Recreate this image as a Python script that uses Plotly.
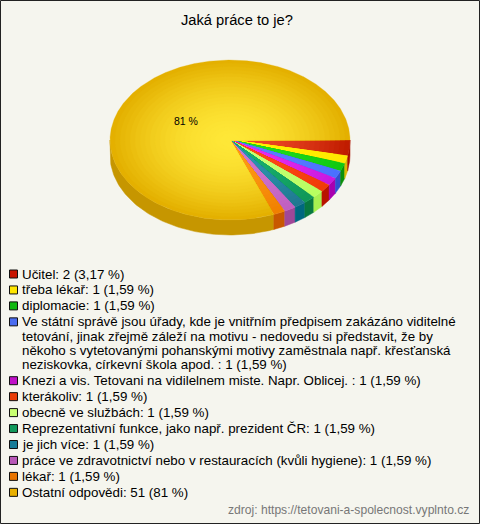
import numpy as np
import plotly.graph_objects as go

title = "Jaká práce to je?"
source = "zdroj: https://tetovani-a-spolecnost.vyplnto.cz"
counts = [2, 1, 1, 1, 1, 1, 1, 1, 1, 1, 1, 51]
percents = ["3,17", "1,59", "1,59", "1,59", "1,59", "1,59", "1,59", "1,59", "1,59", "1,59", "1,59", "81"]
categories = [
    ["Učitel"],
    ["třeba lékař"],
    ["diplomacie"],
    ["Ve státní správě jsou úřady, kde je vnitřním předpisem zakázáno viditelné",
     "tetování, jinak zřejmě záleží na motivu - nedovedu si představit, že by",
     "někoho s vytetovanými pohanskými motivy zaměstnala např. křesťanská",
     "neziskovka, církevní škola apod. "],
    ["Knezi a vis. Tetovani na vidilelnem miste. Napr. Oblicej. "],
    ["kterákoliv"],
    ["obecně ve službách"],
    ["Reprezentativní funkce, jako např. prezident ČR"],
    ["je jich více"],
    ["práce ve zdravotnictví nebo v restauracích (kvůli hygiene)"],
    ["lékař"],
    ["Ostatní odpovědi"],
]
swatch = ["#C81400", "#FFE600", "#10B810", "#4A6CF0", "#C010C8", "#E83C08",
          "#C8FF70", "#10985A", "#187C98", "#B858B8", "#E87400", "#E8B000"]
inner = ["#F04A28", "#FFF200", "#22DD22", "#5C80FF", "#E830F0", "#FF4A18",
         "#C8FF78", "#18B070", "#2C98B0", "#D078D0", "#FF9A18", "#FFE838"]
edge = ["#C01C00", "#FFE800", "#10C810", "#4A70FF", "#C818E0", "#F03C08",
        "#B8FF60", "#109858", "#207890", "#C060C0", "#F08000", "#E4B000"]
side = ["#A81000", "#D8B800", "#0A900A", "#3050D0", "#A800B0", "#B81400",
        "#A8F050", "#087840", "#006880", "#A04898", "#C85800", "#C69600"]

BG = "#F5F5EE"
CX, CY, RX, RY, DEPTH = 230, 140, 120, 80, 15
STEPS = 24


def rgb(h):
    return np.array([int(h[i:i + 2], 16) for i in (1, 3, 5)], float)


def mix(a, b, t):
    c = rgb(a) + (rgb(b) - rgb(a)) * t
    return "rgb(%d,%d,%d)" % tuple(c)


fig = go.Figure()
bounds = np.cumsum([0] + counts) / sum(counts) * 2 * np.pi

# side wall
for i in range(len(counts) - 1, -1, -1):
    a0, a1 = bounds[i], min(bounds[i + 1], np.pi)
    if a0 >= np.pi:
        continue
    t = np.linspace(a0, a1, 90)
    x = CX + RX * np.cos(t)
    y = CY + RY * np.sin(t)
    fig.add_trace(go.Scatter(
        x=np.r_[x, x[::-1], x[0]], y=np.r_[y, y[::-1] + DEPTH, y[0]],
        mode="lines", fill="toself", fillcolor=side[i],
        line=dict(color=side[i], width=0.5), hoverinfo="skip", showlegend=False))

# top face: radial shading drawn as nested wedges
for i in range(len(counts)):
    t = np.linspace(bounds[i], bounds[i + 1], max(6, int(counts[i] * 30)))
    for s in range(STEPS):
        f = 1 - s / STEPS
        x = np.r_[CX, CX + f * RX * np.cos(t), CX]
        y = np.r_[CY, CY + f * RY * np.sin(t), CY]
        col = mix(inner[i], edge[i], f ** 1.8)
        fig.add_trace(go.Scatter(
            x=x, y=y, mode="lines", fill="toself", fillcolor=col,
            line=dict(color=col, width=0.3), hoverinfo="skip", showlegend=False))

ann = [
    dict(x=237, y=20, text=title, font=dict(size=14.7, color="#000")),
    dict(x=186, y=121, text="%d %%" % round(counts[-1] / sum(counts) * 100), font=dict(size=10.5, color="#000")),
]
shapes = [dict(type="rect", x0=0.5, y0=0.5, x1=479.5, y1=523.5, line=dict(color="#222", width=1))]
row_y = 274
for i, lines in enumerate(categories):
    shapes.append(dict(type="rect", x0=9.5, x1=17.5, y0=row_y - 4, y1=row_y + 4,
                       fillcolor=swatch[i], line=dict(color="#111", width=1)))
    for j, ln in enumerate(lines):
        last = j == len(lines) - 1
        if last:
            txt = ln + (": %d (%s %%)" % (counts[i], percents[i]))
        else:
            txt = ln
        ann.append(dict(x=20, y=row_y, text=txt, xanchor="left", font=dict(size=13.35, color="#000")))
        row_y += 14.3 if not last else 15.95

ann.append(dict(x=470.5, y=510, text=source, xanchor="right", font=dict(size=12.1, color="#777")))
for a in ann:
    a.update(xref="x", yref="y", showarrow=False, yanchor="middle")
    a.setdefault("xanchor", "center")
    a["font"]["family"] = "Liberation Sans, Arial, sans-serif"

fig.update_layout(
    width=480, height=524, margin=dict(l=0, r=0, t=0, b=0),
    paper_bgcolor=BG, plot_bgcolor=BG, showlegend=False,
    xaxis=dict(range=[0, 480], visible=False, fixedrange=True),
    yaxis=dict(range=[524, 0], visible=False, fixedrange=True),
    annotations=ann, shapes=shapes,
)
fig.write_html("out.html", config=dict(displayModeBar=False),
               post_script="document.body.style.margin='0';document.documentElement.style.overflow='hidden';")
